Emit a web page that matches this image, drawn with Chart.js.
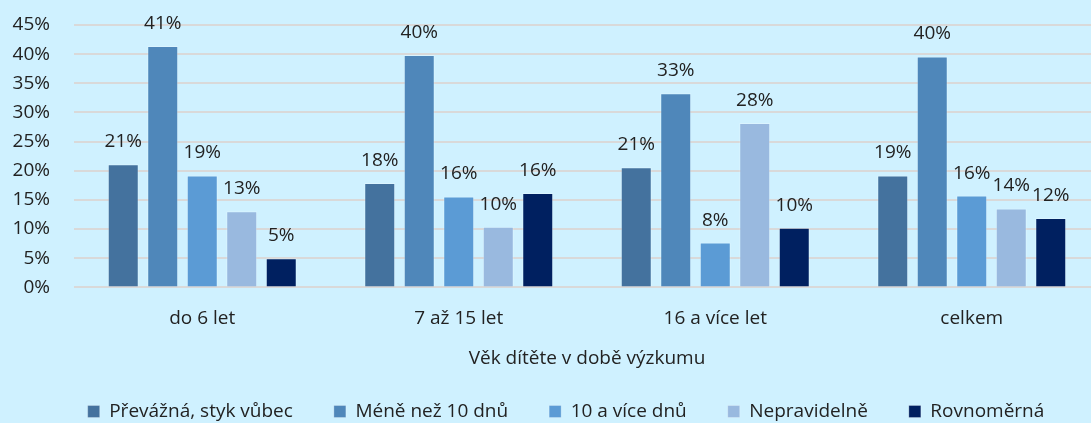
<!DOCTYPE html>
<html><head><meta charset="utf-8">
<script src="https://cdn.jsdelivr.net/npm/chart.js@4.4.0/dist/chart.umd.min.js"></script>
<style>
html,body{margin:0;padding:0;background:#CFF1FF;overflow:hidden;}
#wrap{position:relative;width:1100px;height:440px;}
</style></head><body>
<div id="wrap"><canvas id="c"></canvas></div>
<script>
const categories = ['do 6 let', '7 až 15 let', '16 a více let', 'celkem'];
const seriesNames = ['Převážná, styk vůbec', 'Méně než 10 dnů', '10 a více dnů', 'Nepravidelně', 'Rovnoměrná'];
const prevazna    = [21.1, 17.9, 20.6, 19.2];
const meneNez10   = [41.4, 39.85, 33.3, 39.6];
const vice10      = [19.2, 15.6, 7.7, 15.75];
const nepravidelne = [13.05, 10.4, 28.2, 13.55];
const rovnomerna  = [5.0, 16.2, 10.25, 11.9];
const yMax = 45;
const yStep = 5;
const axisTitle = 'Věk dítěte v době výzkumu';

const colors = ['#44729E', '#4F87BA', '#5B9BD5', '#99B9DF', '#002060'];
const FONT = "'Open Sans', sans-serif";
const TXT = '#222222';

const seriesValues = [prevazna, meneNez10, vice10, nepravidelne, rovnomerna];

const labelPlugin = {
  id: 'barLabels',
  afterDatasetsDraw(chart) {
    const ctx = chart.ctx;
    ctx.save();
    ctx.font = '19px ' + FONT;
    ctx.fillStyle = TXT;
    ctx.textAlign = 'center';
    ctx.textBaseline = 'alphabetic';
    chart.data.datasets.forEach((ds, i) => {
      const meta = chart.getDatasetMeta(i);
      meta.data.forEach((el, j) => {
        ctx.fillText(Math.round(ds.data[j]) + '%', el.x, el.y - 17);
      });
    });
    ctx.restore();
  }
};

const legendShift = {
  id: 'legendShift',
  afterLayout(chart) {
    const lg = chart.legend;
    if (!lg) return;
    const dx = 16, dy = -9;
    lg.left += dx; lg.right += dx;
    lg.top += dy; lg.bottom += dy;
  }
};

new Chart(document.getElementById('c'), {
  type: 'bar',
  data: {
    labels: categories,
    datasets: seriesNames.map((n, i) => ({
      label: n,
      data: seriesValues[i],
      backgroundColor: colors[i],
      borderColor: 'rgba(255,255,255,0.25)',
      borderWidth: 1,
      categoryPercentage: 0.77,
      barPercentage: 0.785
    }))
  },
  options: {
    responsive: true,
    maintainAspectRatio: false,
    animation: false,
    layout: { padding: { left: 0, right: 0, top: 25, bottom: 0 } },
    plugins: {
      legend: {
        position: 'bottom',
        labels: {
          boxWidth: 12, boxHeight: 12, padding: 41,
          color: TXT, font: { family: FONT, size: 19 }
        }
      },
      tooltip: { enabled: false }
    },
    scales: {
      x: {
        grid: { display: false, drawTicks: false },
        border: { display: false },
        ticks: { color: TXT, font: { family: FONT, size: 19 }, padding: 20 },
        title: { display: true, text: axisTitle, color: TXT, font: { family: FONT, size: 19 }, padding: { top: -3, bottom: 0 } }
      },
      y: {
        min: 0, max: yMax,
        afterFit(scale) { scale.width = 74; scale.paddingTop = 10; scale.paddingBottom = 10; },
        grid: { color: '#D9D9D9', lineWidth: 2, drawTicks: false },
        border: { display: false },
        ticks: { stepSize: yStep, autoSkip: false, padding: 24, color: TXT, font: { family: FONT, size: 19 }, callback: v => v + '%' }
      }
    }
  },
  plugins: [labelPlugin, legendShift]
});
</script>
</body></html>
